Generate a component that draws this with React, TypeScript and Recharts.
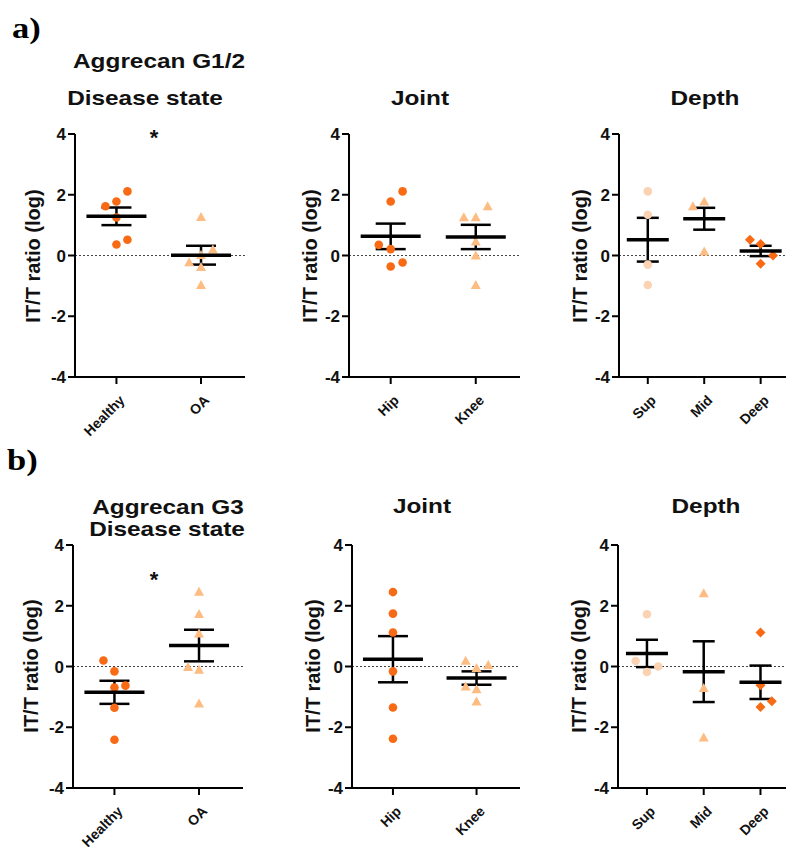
import React from "react";
import { ScatterChart, Scatter, XAxis, YAxis, ReferenceLine, ErrorBar } from "recharts";

// ---- data ----
const Y_TICKS = [-4, -2, 0, 2, 4];
const DISEASE_LABELS = ["Healthy", "OA"];
const JOINT_LABELS = ["Hip", "Knee"];
const DEPTH_LABELS = ["Sup", "Mid", "Deep"];

// Aggrecan G1/2
const g12Healthy = [2.11, 1.78, 1.62, 1.25, 0.52, 0.36];
const g12HealthyJit = [0.13, 0, -0.13, 0, 0.13, 0];
const g12OA = [1.27, 0.2, 0.02, -0.22, -0.38, -0.97];
const g12OAJit = [0, 0.14, 0, -0.14, 0, 0];
const g12DiseaseMean = [1.29, 0.01];
const g12DiseaseSem = [0.29, 0.31];

const g12Hip = [2.11, 1.78, 0.35, 0.21, -0.23, -0.36];
const g12HipJit = [0.14, 0, -0.14, 0, 0.14, 0];
const g12Knee = [1.26, 1.26, 1.62, 0.46, 0, -0.97];
const g12KneeJit = [-0.14, 0, 0.14, 0, 0, 0];
const g12JointMean = [0.63, 0.61];
const g12JointSem = [0.42, 0.4];

const g12Sup = [2.11, 1.34, -0.3, -0.97];
const g12SupJit = [0, 0, 0, 0];
const g12Mid = [1.62, 1.78, 0.13];
const g12MidJit = [-0.2, 0, 0];
const g12Deep = [0.52, 0.38, 0, -0.27];
const g12DeepJit = [-0.19, 0, 0.22, 0];
const g12DepthMean = [0.52, 1.21, 0.15];
const g12DepthSem = [0.72, 0.36, 0.17];

// Aggrecan G3
const g3Healthy = [0.2, -0.16, -0.69, -0.63, -1.36, -2.41];
const g3HealthyJit = [-0.13, 0, 0, 0.13, 0, 0];
const g3OA = [2.46, 1.73, 1.09, -0.02, -0.11, -1.22];
const g3OAJit = [0, 0, 0, -0.13, 0, 0];
const g3DiseaseMean = [-0.85, 0.69];
const g3DiseaseSem = [0.38, 0.52];

const g3Hip = [2.45, 1.74, 1.12, -0.16, -1.35, -2.38];
const g3HipJit = [0, 0, 0, 0, 0, 0];
const g3Knee = [0.19, -0.05, 0.05, -0.66, -0.75, -1.15];
const g3KneeJit = [-0.13, 0, 0.14, -0.13, 0, 0];
const g3JointMean = [0.24, -0.38];
const g3JointSem = [0.76, 0.22];

const g3Sup = [1.72, 0.18, 0, -0.18];
const g3SupJit = [0, -0.2, 0.2, 0];
const g3Mid = [2.41, -0.71, -2.34];
const g3MidJit = [0, 0, 0];
const g3Deep = [1.12, -0.62, -1.14, -1.33];
const g3DeepJit = [0, 0, 0.2, 0];
const g3DepthMean = [0.43, -0.17, -0.52];
const g3DepthSem = [0.45, 1.0, 0.55];

// ---- styling ----
const DARK = "#F86A14";
const LIGHT = "#FDBD82";
const PALE = "#FBD3B2";
const FONT = "'Liberation Sans', Arial, sans-serif";

const toPts = (vals: number[], jit: number[], g: number) =>
  vals.map((y, i) => ({ x: g + jit[i], y }));
const toMeans = (m: number[], s: number[]) => m.map((y, i) => ({ x: i, y, sem: s[i] }));

const Circle = (color: string) => (p: any) => <circle cx={p.cx} cy={p.cy} r={4.3} fill={color} />;
const Tri = (color: string) => (p: any) => (
  <polygon points={`${p.cx},${p.cy - 5} ${p.cx - 5},${p.cy + 4} ${p.cx + 5},${p.cy + 4}`} fill={color} />
);
const Diamond = (color: string) => (p: any) => (
  <polygon points={`${p.cx},${p.cy - 5} ${p.cx + 5},${p.cy} ${p.cx},${p.cy + 5} ${p.cx - 5},${p.cy}`} fill={color} />
);

const RotTick = ({ x, y, payload, labels }: any) => (
  <g transform={`translate(${x + 2},${y + 8}) rotate(-45)`}>
    <text x={0} y={0} dy="0.72em" textAnchor="end" fontSize={14} fontWeight="bold" fill="#111" fontFamily={FONT}>
      {labels[payload.value]}
    </text>
  </g>
);

type Group = { points: { x: number; y: number }[]; shape: any };

function Panel({ left, top, width, domain, labels, groups, means, meanW, capW }: {
  left: number; top: number; width: number; domain: [number, number]; labels: string[];
  groups: Group[]; means: { x: number; y: number; sem: number }[]; meanW: number; capW: number;
}) {
  const MeanLine = (p: any) => (
    <line x1={p.cx - meanW / 2} x2={p.cx + meanW / 2} y1={p.cy} y2={p.cy} stroke="#000" strokeWidth={3.5} />
  );
  return (
    <div style={{ position: "absolute", left, top }}>
      <ScatterChart width={width} height={333} margin={{ top: 14, right: 0, bottom: 0, left: 0 }}>
        <XAxis
          type="number" dataKey="x" domain={domain} ticks={labels.map((_, i) => i)} interval={0}
          allowDataOverflow height={76} tickSize={7}
          axisLine={{ stroke: "#000", strokeWidth: 2 }} tickLine={{ stroke: "#000", strokeWidth: 2 }}
          tick={<RotTick labels={labels} />}
        />
        <YAxis
          type="number" dataKey="y" domain={[-4, 4]} ticks={Y_TICKS} width={60} tickSize={7}
          axisLine={{ stroke: "#000", strokeWidth: 2 }} tickLine={{ stroke: "#000", strokeWidth: 2 }}
          tick={{ fontSize: 17, fontWeight: "bold", fill: "#111", fontFamily: FONT }}
        />
        <ReferenceLine y={0} stroke="#444" strokeDasharray="2 2" strokeWidth={1} />
        {groups.map((g, i) => (
          <Scatter key={i} data={g.points} shape={g.shape} isAnimationActive={false} />
        ))}
        <Scatter data={means} shape={MeanLine} isAnimationActive={false}>
          <ErrorBar dataKey="sem" direction="y" width={capW} strokeWidth={2.5} stroke="#000" />
        </Scatter>
      </ScatterChart>
    </div>
  );
}

const titleStyle: React.CSSProperties = {
  position: "absolute", fontFamily: FONT, fontWeight: "bold", fontSize: 21, color: "#111",
  whiteSpace: "nowrap", transform: "translateX(-50%) scaleX(1.16)", lineHeight: "24px",
};
const T = ({ x, y, children }: any) => <div style={{ ...titleStyle, left: x, top: y }}>{children}</div>;

const YLabel = ({ x, y }: { x: number; y: number }) => (
  <div style={{
    position: "absolute", left: x, top: y, transform: "translate(-50%,-50%) rotate(-90deg)",
    fontFamily: FONT, fontWeight: "bold", fontSize: 20, color: "#111", whiteSpace: "nowrap", lineHeight: "22px",
  }}>IT/T ratio (log)</div>
);

const Star = ({ x, y }: { x: number; y: number }) => (
  <div style={{ position: "absolute", left: x, top: y, transform: "translateX(-50%)", fontFamily: FONT, fontWeight: "bold", fontSize: 22, lineHeight: "22px", color: "#111" }}>*</div>
);

const Letter = ({ x, y, children }: any) => (
  <div style={{ position: "absolute", left: x, top: y, fontFamily: "'Liberation Serif', 'Times New Roman', serif", fontWeight: "bold", fontSize: 30, color: "#000", lineHeight: "30px", transform: "scaleX(1.15)", transformOrigin: "left" }}>{children}</div>
);

const D2: [number, number] = [-0.49, 1.52];
const D3: [number, number] = [-0.51, 2.52];

export default function App() {
  return (
    <div style={{ position: "absolute", left: 0, top: 0, width: 786, height: 847, background: "#fff", overflow: "hidden" }}>
      <Letter x={12} y={13}>a)</Letter>
      <T x={159} y={49}>Aggrecan G1/2</T>
      <T x={145} y={86}>Disease state</T>
      <T x={420} y={86}>Joint</T>
      <T x={705} y={86}>Depth</T>

      <Panel left={15} top={120} width={230} domain={D2} labels={DISEASE_LABELS}
        groups={[
          { points: toPts(g12Healthy, g12HealthyJit, 0), shape: Circle(DARK) },
          { points: toPts(g12OA, g12OAJit, 1), shape: Tri(LIGHT) },
        ]}
        means={toMeans(g12DiseaseMean, g12DiseaseSem)} meanW={60} capW={15} />
      <Panel left={289} top={120} width={231} domain={D2} labels={JOINT_LABELS}
        groups={[
          { points: toPts(g12Hip, g12HipJit, 0), shape: Circle(DARK) },
          { points: toPts(g12Knee, g12KneeJit, 1), shape: Tri(LIGHT) },
        ]}
        means={toMeans(g12JointMean, g12JointSem)} meanW={60} capW={15} />
      <Panel left={559} top={120} width={231} domain={D3} labels={DEPTH_LABELS}
        groups={[
          { points: toPts(g12Sup, g12SupJit, 0), shape: Circle(PALE) },
          { points: toPts(g12Mid, g12MidJit, 1), shape: Tri(LIGHT) },
          { points: toPts(g12Deep, g12DeepJit, 2), shape: Diamond(DARK) },
        ]}
        means={toMeans(g12DepthMean, g12DepthSem)} meanW={42} capW={11} />
      <YLabel x={33} y={256} />
      <YLabel x={310} y={256} />
      <YLabel x={580} y={256} />
      <Star x={154} y={127} />

      <Letter x={7} y={445}>b)</Letter>
      <T x={168} y={495}>Aggrecan G3</T>
      <T x={167} y={517}>Disease state</T>
      <T x={422} y={494}>Joint</T>
      <T x={706} y={494}>Depth</T>

      <Panel left={13} top={531} width={230} domain={D2} labels={DISEASE_LABELS}
        groups={[
          { points: toPts(g3Healthy, g3HealthyJit, 0), shape: Circle(DARK) },
          { points: toPts(g3OA, g3OAJit, 1), shape: Tri(LIGHT) },
        ]}
        means={toMeans(g3DiseaseMean, g3DiseaseSem)} meanW={60} capW={15} />
      <Panel left={292} top={531} width={228} domain={D2} labels={JOINT_LABELS}
        groups={[
          { points: toPts(g3Hip, g3HipJit, 0), shape: Circle(DARK) },
          { points: toPts(g3Knee, g3KneeJit, 1), shape: Tri(LIGHT) },
        ]}
        means={toMeans(g3JointMean, g3JointSem)} meanW={60} capW={15} />
      <Panel left={558} top={531} width={232} domain={D3} labels={DEPTH_LABELS}
        groups={[
          { points: toPts(g3Sup, g3SupJit, 0), shape: Circle(PALE) },
          { points: toPts(g3Mid, g3MidJit, 1), shape: Tri(LIGHT) },
          { points: toPts(g3Deep, g3DeepJit, 2), shape: Diamond(DARK) },
        ]}
        means={toMeans(g3DepthMean, g3DepthSem)} meanW={42} capW={11} />
      <YLabel x={31} y={666} />
      <YLabel x={313} y={666} />
      <YLabel x={579} y={666} />
      <Star x={154} y={569} />
    </div>
  );
}
